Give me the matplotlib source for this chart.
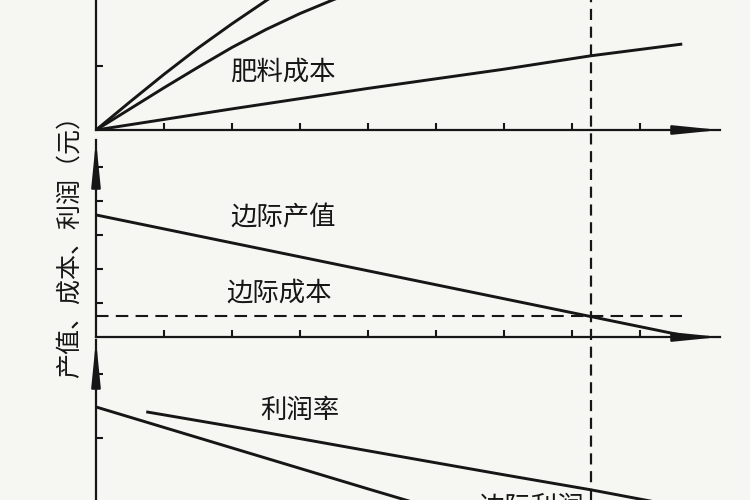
'''
Fertilizer input chart: output value, cost and profit vs. fertilizer amount.
Writes out.png
'''

import matplotlib
matplotlib.use('Agg')
import matplotlib.pyplot as plt
import matplotlib.transforms as mtransforms

plt.rcParams['font.family'] = ['Noto Sans CJK SC', 'DejaVu Sans']

# top panel: total curves (x in fertilizer units, y in yuan units)
top1_x = [0, 0.5, 1, 1.5, 2, 2.5, 3]
top1_y = [0, 0.44, 0.87, 1.28, 1.66, 2.02, 2.37]
top2_x = [0, 0.5, 1, 1.5, 2, 2.5, 3, 3.5, 4]
top2_y = [0, 0.33, 0.66, 0.98, 1.29, 1.57, 1.82, 2.04, 2.24]
fert_cost_x = [0, 2, 4, 6, 7.28, 8.6]
fert_cost_y = [0, 0.33, 0.65, 0.95, 1.16, 1.34]

# middle panel: marginal value / marginal cost
marg_val_x = [0, 8.74]
marg_val_y = [3.59, 0]
marg_cost = 0.62
marg_cost_end = 8.62

# bottom panel: profit curves
prof_a_x = [0, 2, 4, 5]
prof_a_y = [4.97, 3.69, 2.41, 1.78]
prof_rate_x = [0.76, 2, 4, 6, 7.28, 8.6]
prof_rate_y = [4.81, 4.36, 3.6, 2.85, 2.38, 1.85]

optimum_x = 7.28
x_ticks = [1, 2, 3, 4, 5, 6, 7, 8]

ink = '#161616'
paper = '#f6f6f3'

W, H = 750, 500
fig = plt.figure(figsize=(7.5, 5), dpi=100, facecolor=paper)


def px_axes(top, bottom):
    # axes whose left edge is the shared y axis (x pixel 96)
    return fig.add_axes([96 / W, (H - bottom) / H, 624 / W, (bottom - top) / H])


ax_top = px_axes(0, 130)
ax_mid = px_axes(140, 337)
ax_bot = px_axes(340, 566)

for ax in (ax_top, ax_mid, ax_bot):
    ax.set_facecolor('none')
    ax.set_xlim(0, 624 / 68)
    for s in ('top', 'right'):
        ax.spines[s].set_visible(False)
    for s in ('left', 'bottom'):
        ax.spines[s].set_linewidth(1.6)
        ax.spines[s].set_color(ink)
    ax.tick_params(direction='in', length=5, width=1.5, color=ink,
                   labelleft=False, labelbottom=False)
    ax.set_xticks(x_ticks)

ax_top.set_ylim(0, 130 / 64)
ax_top.set_yticks([1])
ax_mid.set_ylim(0, 197 / 34)
ax_mid.set_yticks([1, 2, 3, 4, 5])
ax_bot.set_ylim(0, 226 / 32)
ax_bot.set_yticks([2, 4, 6])
ax_bot.spines['bottom'].set_visible(False)
ax_bot.tick_params(bottom=False)

lw = 2.1
ax_top.plot(top1_x, top1_y, color=ink, lw=lw)
ax_top.plot(top2_x, top2_y, color=ink, lw=lw)
ax_top.plot(fert_cost_x, fert_cost_y, color=ink, lw=lw)

ax_mid.plot(marg_val_x, marg_val_y, color=ink, lw=lw)
ax_mid.plot([0, marg_cost_end], [marg_cost, marg_cost], color=ink, lw=1.5,
            linestyle=(0, (6, 3.5)))

ax_bot.plot(prof_a_x, prof_a_y, color=ink, lw=lw)
ax_bot.plot(prof_rate_x, prof_rate_y, color=ink, lw=lw)

# axis arrow heads
arrow = dict(arrowstyle='-|>,head_length=1.8,head_width=0.18', color=ink,
             lw=1.6, mutation_scale=15, shrinkA=0, shrinkB=0)
for ax in (ax_top, ax_mid):
    ax.annotate('', xy=(624 / 68, 0), xytext=(624 / 68 - 0.6, 0),
                arrowprops=arrow, annotation_clip=False)
for ax in (ax_mid, ax_bot):
    ymax = ax.get_ylim()[1]
    ax.annotate('', xy=(0, ymax), xytext=(0, ymax - 1.0),
                arrowprops=arrow, annotation_clip=False)

# vertical dashed line at the optimum, through all panels
blend = mtransforms.blended_transform_factory(ax_mid.transData, fig.transFigure)
ax_mid.plot([optimum_x, optimum_x], [0, 1], transform=blend, clip_on=False,
            color=ink, lw=1.6, linestyle=(0, (5, 3)))

# labels
tkw = dict(color=ink, fontsize=19, ha='center', va='center')
ax_top.text(2.75, 0.9, '肥料成本', **tkw)
ax_mid.text(2.75, 3.5, '边际产值', **tkw)
ax_mid.text(2.7, 1.3, '边际成本', **tkw)
ax_bot.text(3.0, 4.85, '利润率', **tkw)
ax_bot.text(6.4, 2.28, '边际利润', color=ink, fontsize=19, ha='center', va='top')

fig.text(70 / W, 1 - 240 / H, '产值、成本、利润（元）', rotation=90,
         ha='center', va='center', fontsize=18, color=ink)

plt.savefig('out.png', dpi=100, facecolor=paper)
